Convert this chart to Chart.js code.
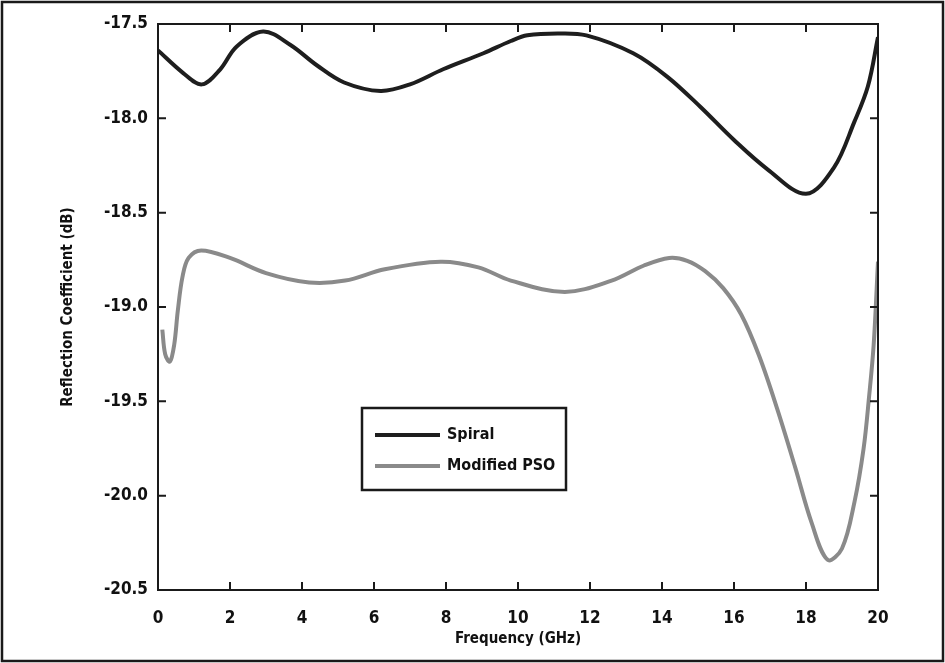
<!DOCTYPE html>
<html>
<head>
<meta charset="utf-8">
<title>Reflection Coefficient</title>
<script src="https://cdn.jsdelivr.net/npm/chart.js@4.4.0/dist/chart.umd.min.js"></script>
<style>
  html, body { margin: 0; padding: 0; background: #fff; }
  canvas { display: block; }
</style>
</head>
<body>
<canvas id="chart" width="945" height="663"></canvas>
<script>
// values
var spiralFreq = [0, 0.7, 1.22, 1.73, 2.18, 2.92, 3.67, 4.42, 5.17, 6.18, 7.0, 7.92, 9.04, 9.8, 10.26, 11.1, 11.9, 13.2, 14.15, 15.07, 16.0, 16.93, 18.0, 18.78, 19.34, 19.72, 20.0];
var spiralDb = [-17.64, -17.76, -17.82, -17.74, -17.62, -17.54, -17.61, -17.72, -17.81, -17.855, -17.82, -17.74, -17.655, -17.59, -17.56, -17.55, -17.56, -17.655, -17.78, -17.94, -18.115, -18.27, -18.40, -18.26, -18.02, -17.83, -17.57];

var psoFreq = [0.12, 0.2, 0.33, 0.45, 0.55, 0.68, 0.85, 1.2, 2.0, 3.0, 4.2, 5.2, 6.3, 7.85, 8.9, 9.8, 11.3, 12.6, 13.5, 14.2, 14.7, 15.2, 15.7, 16.2, 16.7, 17.2, 17.7, 18.15, 18.6, 19.0, 19.35, 19.6, 19.75, 19.88, 20.0];
var psoDb = [-19.12, -19.25, -19.29, -19.2, -19.02, -18.84, -18.74, -18.70, -18.74, -18.82, -18.87, -18.86, -18.80, -18.76, -18.79, -18.86, -18.92, -18.86, -18.78, -18.74, -18.755, -18.81, -18.9, -19.04, -19.26, -19.54, -19.85, -20.14, -20.34, -20.28, -20.03, -19.75, -19.48, -19.2, -18.76];

var seriesNames = ["Spiral", "Modified PSO"];
var seriesColors = ["#1e1e1e", "#8a8a8a"];

var xTitle = "Frequency (GHz)";
var yTitle = "Reflection Coefficient (dB)";

var FONT = "'Liberation Sans Narrow', 'DejaVu Sans Condensed', sans-serif";

function points(xs, ys) {
	var out = [];
	for (var i = 0; i < xs.length; i++) out.push({ x: xs[i], y: ys[i] });
	return out;
}

// frame, inward ticks, outer border and the boxed legend
var framePlugin = {
	id: "frame",
	afterDraw: function (chart) {
		var ctx = chart.ctx;
		var a = chart.chartArea;
		var xs = chart.scales.x, ys = chart.scales.y;
		ctx.save();
		ctx.strokeStyle = "#1a1a1a";
		ctx.lineWidth = 2;
		ctx.strokeRect(a.left, a.top, a.right - a.left, a.bottom - a.top);

		ctx.beginPath();
		xs.ticks.forEach(function (t) {
			var px = xs.getPixelForValue(t.value);
			ctx.moveTo(px, a.bottom); ctx.lineTo(px, a.bottom - 8);
			ctx.moveTo(px, a.top); ctx.lineTo(px, a.top + 8);
		});
		ys.ticks.forEach(function (t) {
			var py = ys.getPixelForValue(t.value);
			ctx.moveTo(a.left, py); ctx.lineTo(a.left + 8, py);
			ctx.moveTo(a.right, py); ctx.lineTo(a.right - 8, py);
		});
		ctx.stroke();

		// outer border of the figure
		ctx.lineWidth = 2.5;
		ctx.strokeRect(2, 2, chart.width - 4, chart.height - 4);

		// legend
		var lx = 362, ly = 408, lw = 204, lh = 82;
		ctx.fillStyle = "#fff";
		ctx.fillRect(lx, ly, lw, lh);
		ctx.lineWidth = 2.5;
		ctx.strokeRect(lx, ly, lw, lh);
		ctx.font = "bold 16px " + FONT;
		ctx.textBaseline = "middle";
		chart.data.datasets.forEach(function (ds, i) {
			var yy = ly + 27 + i * 31;
			ctx.strokeStyle = ds.borderColor;
			ctx.lineWidth = 4;
			ctx.beginPath();
			ctx.moveTo(lx + 13, yy); ctx.lineTo(lx + 78, yy);
			ctx.stroke();
			ctx.fillStyle = "#111";
			ctx.fillText(ds.label, lx + 85, yy);
		});
		ctx.restore();
	}
};

new Chart(document.getElementById("chart").getContext("2d"), {
	type: "line",
	data: {
		datasets: [{
			label: seriesNames[0],
			data: points(spiralFreq, spiralDb),
			borderColor: seriesColors[0],
			borderWidth: 4,
			pointRadius: 0,
			tension: 0.35,
			fill: false
		},
		{
			label: seriesNames[1],
			data: points(psoFreq, psoDb),
			borderColor: seriesColors[1],
			borderWidth: 4,
			pointRadius: 0,
			tension: 0.35,
			fill: false
		}]
	},
	options: {
		responsive: false,
		animation: false,
		layout: { padding: { left: 0, right: 67, top: 24, bottom: 0 } },
		plugins: {
			legend: { display: false },
			tooltip: { enabled: false }
		},
		scales: {
			x: {
				type: "linear",
				min: 0,
				max: 20,
				border: { display: false },
				grid: { display: false, drawTicks: false },
				ticks: {
					stepSize: 2,
					padding: 18,
					color: "#111",
					font: { family: FONT, size: 17, weight: "bold" }
				},
				title: {
					display: true,
					text: xTitle,
					color: "#111",
					padding: { top: 0, bottom: 15 },
					font: { family: FONT, size: 15, weight: "bold" }
				},
				afterFit: function (scale) { scale.height = 73; }
			},
			y: {
				min: -20.5,
				max: -17.5,
				border: { display: false },
				grid: { display: false, drawTicks: false },
				ticks: {
					stepSize: 0.5,
					padding: 10,
					color: "#111",
					font: { family: FONT, size: 17, weight: "bold" },
					callback: function (v) { return v.toFixed(1); }
				},
				title: {
					display: true,
					text: yTitle,
					color: "#111",
					padding: { top: 59, bottom: 0 },
					font: { family: FONT, size: 15, weight: "bold" }
				},
				afterFit: function (scale) { scale.width = 158; }
			}
		}
	},
	plugins: [framePlugin]
});
</script>
</body>
</html>
